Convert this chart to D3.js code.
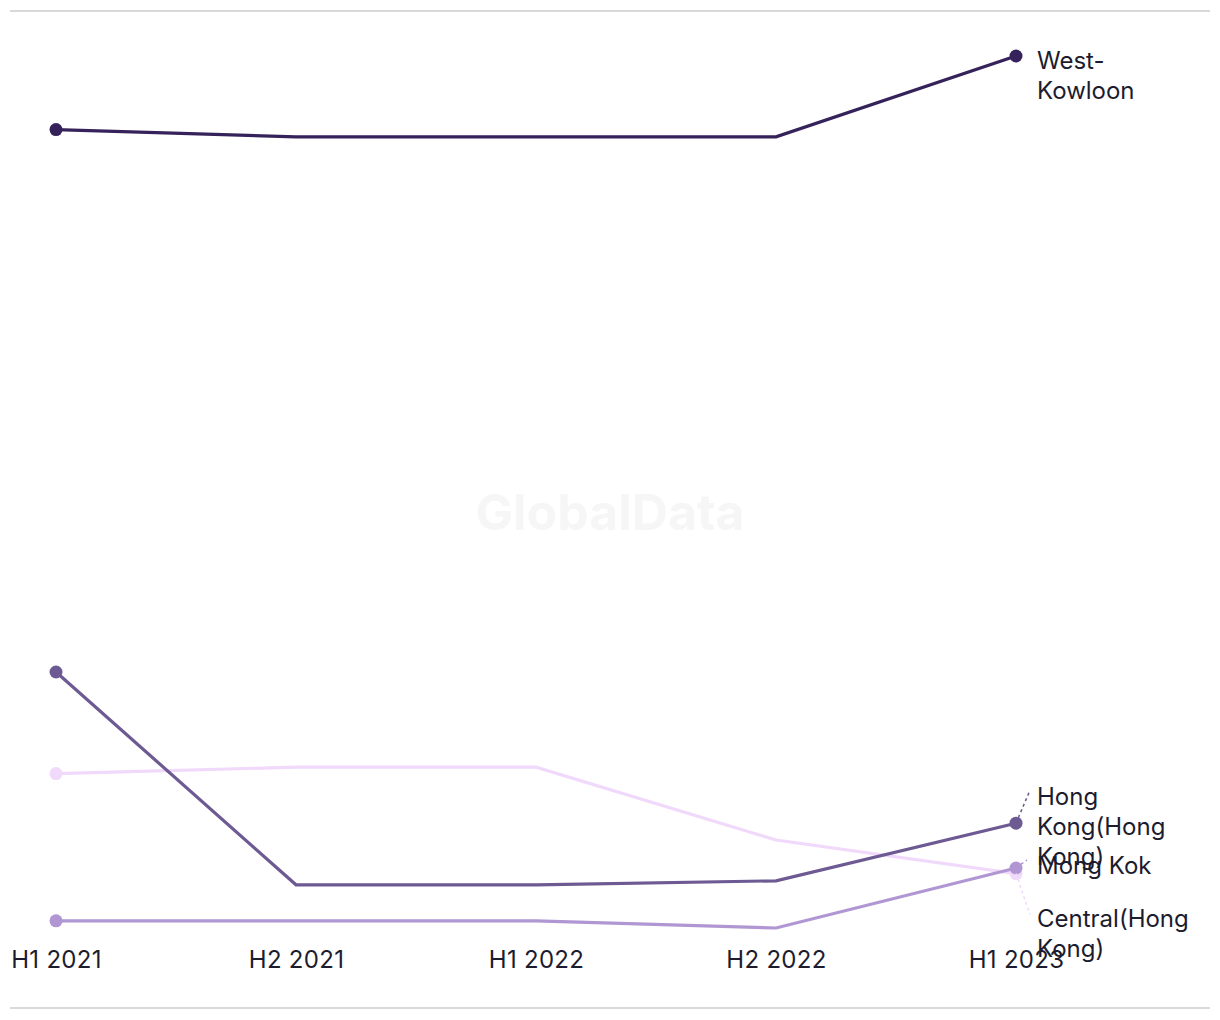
<!DOCTYPE html>
<html>
<head>
<meta charset="utf-8">
<script src="https://cdn.jsdelivr.net/npm/d3@7/dist/d3.min.js"></script>
<style>
  html, body { margin: 0; padding: 0; background: #fff; }
  svg { display: block; }
</style>
</head>
<body>
<svg id="chart" width="1220" height="1020"></svg>
<script>
const periods = ["H1 2021", "H2 2021", "H1 2022", "H2 2022", "H1 2023"];
const seriesNames = ["Central(Hong Kong)", "Hong Kong(Hong Kong)", "Mong Kok", "West-Kowloon"];
const centralValues = [23.3, 24.1, 24.1, 15.0, 10.8];
const hongKongValues = [36.0, 9.4, 9.4, 9.9, 17.1];
const mongKokValues = [4.9, 4.9, 4.9, 4.0, 11.5];
const westKowloonValues = [103.8, 102.9, 102.9, 102.9, 113.0];
const labelLines = [["Central(Hong", "Kong)"], ["Hong", "Kong(Hong", "Kong)"], ["Mong Kok"], ["West-", "Kowloon"]];

const colors = ["#f0d9fb", "#6d5a93", "#b096d3", "#35225a"];
const labelOffsets = [45, -27, -2, 5];   // label first-line offset from point (px)
const leaderEnd = [[14, 41], [14, -33], [11, -8], null];

const svg = d3.select("#chart");
const FONT = "Inter, sans-serif";

// frame lines
svg.append("line").attr("x1", 10).attr("x2", 1210).attr("y1", 11).attr("y2", 11)
  .attr("stroke", "#d9d9d9").attr("stroke-width", 2);
svg.append("line").attr("x1", 10).attr("x2", 1210).attr("y1", 1008).attr("y2", 1008)
  .attr("stroke", "#d9d9d9").attr("stroke-width", 2);

// watermark
svg.append("text").attr("x", 610).attr("y", 530).attr("text-anchor", "middle")
  .attr("font-family", FONT).attr("font-weight", 700)
  .attr("font-size", 50).attr("fill", "#f6f6f6").text("GlobalData");

const x = d3.scalePoint().domain(periods).range([56, 1016]);
const y = d3.scaleLinear().domain([0, 120]).range([960, 0]);

const allValues = [centralValues, hongKongValues, mongKokValues, westKowloonValues];
const series = seriesNames.map((name, i) => ({
  name, color: colors[i], lines: labelLines[i],
  values: allValues[i].map((v, j) => ({ period: periods[j], value: v }))
}));

// x axis labels
const xAxis = d3.axisBottom(x).tickSize(0).tickPadding(0);
const gx = svg.append("g").attr("transform", "translate(0,951)").call(xAxis);
gx.select(".domain").remove();
gx.selectAll("text").attr("font-family", FONT).attr("font-size", 24)
  .attr("fill", "#1c1c2e").attr("dy", "0.71em").attr("letter-spacing", 0.3);

const line = d3.line().x(d => x(d.period)).y(d => y(d.value));

series.forEach((s, i) => {
  const g = svg.append("g");
  g.append("path").datum(s.values).attr("d", line).attr("fill", "none")
    .attr("stroke", s.color).attr("stroke-width", 3.2);
  g.selectAll("circle.end").data([s.values[0], s.values[s.values.length - 1]]).enter()
    .append("circle").attr("cx", d => x(d.period)).attr("cy", d => y(d.value))
    .attr("r", 6.5).attr("fill", s.color);
});

// labels
series.forEach((s, i) => {
  const last = s.values[s.values.length - 1];
  const px = x(last.period), py = y(last.value);
  if (leaderEnd[i]) {
    svg.append("line").attr("x1", px).attr("y1", py)
      .attr("x2", px + leaderEnd[i][0]).attr("y2", py + leaderEnd[i][1])
      .attr("stroke", s.color).attr("stroke-width", 1.5).attr("stroke-dasharray", "3,3");
  }
  const t = svg.append("text").attr("x", 1037).attr("y", py + labelOffsets[i])
    .attr("font-family", FONT).attr("font-size", 24).attr("fill", "#1c1c2e");
  s.lines.forEach((l, k) => {
    t.append("tspan").attr("x", 1037).attr("dy", k === 0 ? "0.35em" : 30).text(l);
  });
});
</script>
</body>
</html>
